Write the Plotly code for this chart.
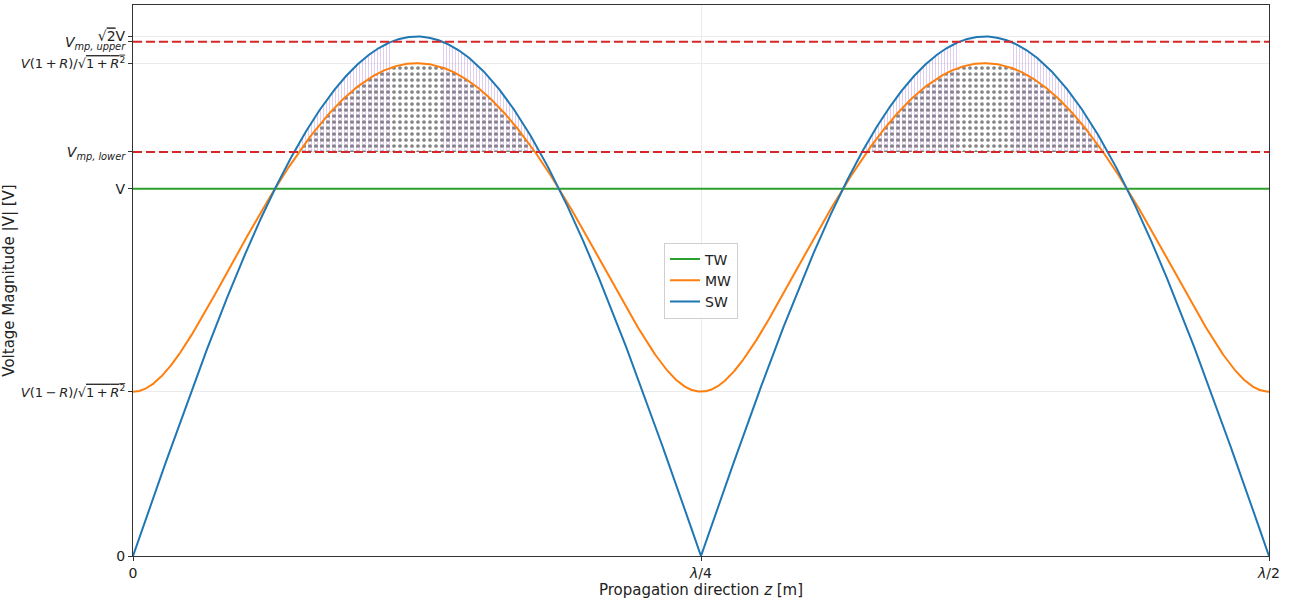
import numpy as np
import plotly.graph_objects as go

# ---- data -------------------------------------------------------------
V_AMPL = 1.0                      # amplitude V
R_TW = 0.0                        # travelling wave: no reflection
R_MW = 0.5                        # mixed wave: reflection factor R
R_SW = 1.0                        # standing wave: full reflection
V_MP_LOWER = 1.1                  # lower measurement-point level (x V)
V_MP_UPPER = 1.4                  # upper measurement-point level (x V)
Z_END = 0.5                       # propagation axis ends at lambda/2

series_names = ["TW", "MW", "SW"]
series_R = [R_TW, R_MW, R_SW]
series_colors = ["#2ca02c", "#ff7f0e", "#1f77b4"]

x_tick_vals = [0, 0.25, 0.5]
x_tick_text = ["0", "<i>λ</i>/4", "<i>λ</i>/2"]

OV = "<span style='text-decoration:overline'>"
T = "\u2009"
SM = "<span style='font-size:13px'>"
y_tick_vals = [0, (1 - R_MW) / np.sqrt(1 + R_MW**2), 1.0, V_MP_LOWER,
               (1 + R_MW) / np.sqrt(1 + R_MW**2), V_MP_UPPER, np.sqrt(2)]
y_tick_text = [
    "0",
    SM + "<i>V</i>(1" + T + "−" + T + "<i>R</i>)/√" + OV + "1" + T + "+" + T + "<i>R</i><sup>2</sup></span></span>",
    "V",
    "<i>V</i><sub><i>mp, lower</i></sub>",
    SM + "<i>V</i>(1" + T + "+" + T + "<i>R</i>)/√" + OV + "1" + T + "+" + T + "<i>R</i><sup>2</sup></span></span>",
    "<i>V</i><sub><i>mp, upper</i></sub>",
    "√" + OV + "2</span>V",
]


def magnitude(z, R):
    theta = 8 * np.pi * z
    return V_AMPL * np.abs(1 - R * np.exp(1j * theta)) / np.sqrt(1 + R**2)


z = np.linspace(0, Z_END, 4001)
curves = {n: magnitude(z, r) for n, r in zip(series_names, series_R)}


def runs(mask):
    idx = np.flatnonzero(mask)
    if idx.size == 0:
        return []
    splits = np.flatnonzero(np.diff(idx) > 1)
    starts = np.r_[idx[0], idx[splits + 1]]
    ends = np.r_[idx[splits], idx[-1]]
    return list(zip(starts, ends))


fig = go.Figure()

# hatched region: SW between the lower and upper levels
sw = curves["SW"]
for a, b in runs((sw > V_MP_LOWER) & (sw < V_MP_UPPER)):
    xs = np.r_[z[a:b + 1], z[b], z[a], z[a]]
    ys = np.r_[sw[a:b + 1], V_MP_LOWER, V_MP_LOWER, sw[a]]
    fig.add_trace(go.Scatter(
        x=xs, y=ys, mode="lines", line=dict(width=0), fill="toself",
        fillcolor="rgba(0,0,0,0)",
        fillpattern=dict(shape="|", size=3, solidity=0.35,
                         fgcolor="rgba(165,115,215,0.7)",
                         bgcolor="rgba(0,0,0,0)"),
        showlegend=False, hoverinfo="skip"))

# dotted region: MW above the lower level
mw = curves["MW"]
for a, b in runs(mw > V_MP_LOWER):
    xs = np.r_[z[a:b + 1], z[b], z[a], z[a]]
    ys = np.r_[mw[a:b + 1], V_MP_LOWER, V_MP_LOWER, mw[a]]
    fig.add_trace(go.Scatter(
        x=xs, y=ys, mode="lines", line=dict(width=0), fill="toself",
        fillcolor="rgba(0,0,0,0)",
        fillpattern=dict(shape=".", size=6, solidity=0.3,
                         fgcolor="rgba(10,10,10,1)",
                         bgcolor="rgba(0,0,0,0)"),
        showlegend=False, hoverinfo="skip"))

for n, c in zip(series_names, series_colors):
    fig.add_trace(go.Scatter(x=z, y=curves[n], mode="lines", name=n,
                             line=dict(color=c, width=2)))

for lvl in (V_MP_UPPER, V_MP_LOWER):
    fig.add_shape(type="line", xref="x", yref="y", x0=0, x1=Z_END,
                  y0=lvl, y1=lvl, layer="above",
                  line=dict(color="#d62728", width=2, dash="9px,4px"))

axis_common = dict(showline=True, linecolor="#333", linewidth=1, mirror=True,
                   ticks="outside", ticklen=4, tickcolor="#333",
                   showgrid=True, gridcolor="#ebebeb", gridwidth=1,
                   zeroline=False, automargin=False,
                   tickfont=dict(family="DejaVu Sans", size=14, color="#222"))

fig.update_layout(
    width=1295, height=601,
    margin=dict(l=133, r=26, t=5, b=45),
    paper_bgcolor="white", plot_bgcolor="white",
    font=dict(family="DejaVu Sans", size=14, color="#222"),
    xaxis=dict(range=[0, Z_END], tickmode="array", tickvals=x_tick_vals,
               ticktext=x_tick_text,
               title=dict(text="Propagation direction <i>z</i> [m]",
                          font=dict(size=15), standoff=2),
               **axis_common),
    yaxis=dict(range=[0, 1.5], tickmode="array", tickvals=y_tick_vals,
               ticktext=y_tick_text,
               title=dict(text="Voltage Magnitude |V| [V]",
                          font=dict(size=15)),
               **axis_common),
    legend=dict(x=0.5, y=0.5, xanchor="center", yanchor="middle",
                bgcolor="rgba(255,255,255,0.85)", bordercolor="#d0d0d0",
                borderwidth=1, font=dict(size=14)),
    showlegend=True,
)

fig.write_html("out.html",
               config={"displayModeBar": False},
               post_script="document.body.style.margin='0';"
                           "document.body.style.overflow='hidden';")
